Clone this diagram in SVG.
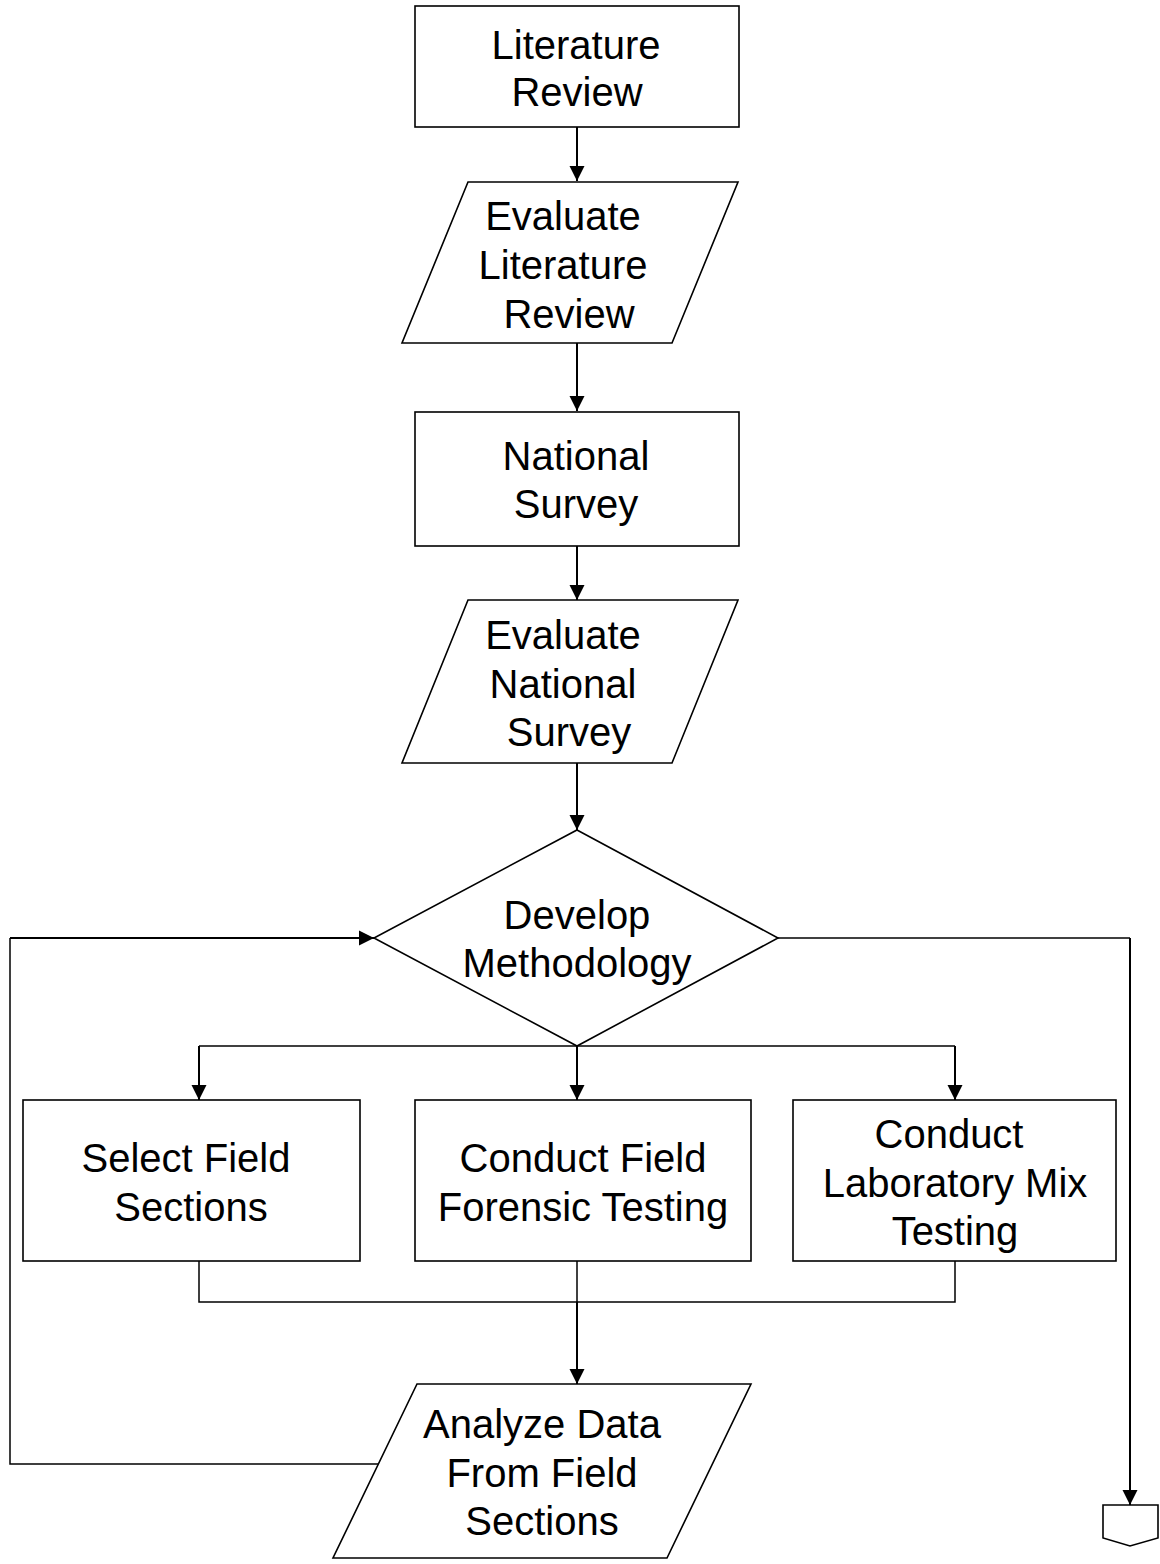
<svg xmlns="http://www.w3.org/2000/svg" width="1160" height="1564" viewBox="0 0 1160 1564">
<style>
.shape{fill:#fff;stroke:#000;stroke-width:1.6}
.lbl{font-family:"Liberation Sans",Arial,sans-serif;font-size:40px;fill:#000;text-anchor:middle}
.conn{fill:none;stroke:#000;stroke-width:2}
.thin{fill:none;stroke:#000;stroke-width:1.5}
</style>
<defs>
<marker id="arr" markerUnits="userSpaceOnUse" markerWidth="16" markerHeight="16" viewBox="0 0 16 16" refX="15" refY="8" orient="auto">
<path d="M0,0.5 L15,8 L0,15.5 Z" fill="#000"/>
</marker>
</defs>
<rect width="1160" height="1564" fill="#fff"/>
<g id="connectors">
<path class="conn" d="M577,127 V181" marker-end="url(#arr)"/>
<path class="conn" d="M577,343 V411" marker-end="url(#arr)"/>
<path class="conn" d="M577,546 V600" marker-end="url(#arr)"/>
<path class="conn" d="M577,763 V830" marker-end="url(#arr)"/>
<path class="thin" d="M199,1046 H955"/>
<path class="conn" d="M199,1046 V1100" marker-end="url(#arr)"/>
<path class="conn" d="M577,1046 V1100" marker-end="url(#arr)"/>
<path class="conn" d="M955,1046 V1100" marker-end="url(#arr)"/>
<path class="thin" d="M199,1261 V1302 H955 V1261"/>
<path class="thin" d="M577,1261 V1302"/>
<path class="conn" d="M577,1302 V1384" marker-end="url(#arr)"/>
<path class="thin" d="M378,1464 H10 V938"/>
<path class="conn" d="M10,938 H374" marker-end="url(#arr)"/>
<path class="thin" d="M778,938 H1130"/>
<path class="conn" d="M1130,938 V1505" marker-end="url(#arr)"/>
</g>
<g id="n1">
<rect class="shape" x="415" y="6" width="324" height="121"/>
<text class="lbl" x="576" y="59">Literature</text>
<text class="lbl" x="577" y="106">Review</text>
</g>
<g id="n2">
<polygon class="shape" points="468,182 738,182 672,343 402,343"/>
<text class="lbl" x="563" y="230">Evaluate</text>
<text class="lbl" x="563" y="279">Literature</text>
<text class="lbl" x="569" y="328">Review</text>
</g>
<g id="n3">
<rect class="shape" x="415" y="412" width="324" height="134"/>
<text class="lbl" x="576" y="470">National</text>
<text class="lbl" x="576" y="518">Survey</text>
</g>
<g id="n4">
<polygon class="shape" points="468,600 738,600 672,763 402,763"/>
<text class="lbl" x="563" y="649">Evaluate</text>
<text class="lbl" x="563" y="698">National</text>
<text class="lbl" x="569" y="746">Survey</text>
</g>
<g id="n5">
<polygon class="shape" points="577,830 778,938 577,1046 374,938"/>
<text class="lbl" x="577" y="929">Develop</text>
<text class="lbl" x="577" y="977">Methodology</text>
</g>
<g id="n6">
<rect class="shape" x="23" y="1100" width="337" height="161"/>
<text class="lbl" x="186" y="1172">Select Field</text>
<text class="lbl" x="191" y="1221">Sections</text>
</g>
<g id="n7">
<rect class="shape" x="415" y="1100" width="336" height="161"/>
<text class="lbl" x="583" y="1172">Conduct Field</text>
<text class="lbl" x="583" y="1221">Forensic Testing</text>
</g>
<g id="n8">
<rect class="shape" x="793" y="1100" width="323" height="161"/>
<text class="lbl" x="949" y="1148">Conduct</text>
<text class="lbl" x="955" y="1197">Laboratory Mix</text>
<text class="lbl" x="955" y="1245">Testing</text>
</g>
<g id="n9">
<polygon class="shape" points="417,1384 751,1384 667,1558 333,1558"/>
<text class="lbl" x="542" y="1438">Analyze Data</text>
<text class="lbl" x="542" y="1487">From Field</text>
<text class="lbl" x="542" y="1535">Sections</text>
</g>
<g id="n10">
<polygon class="shape" points="1103,1505 1158,1505 1158,1538 1130,1546 1103,1538"/>
</g>
</svg>
